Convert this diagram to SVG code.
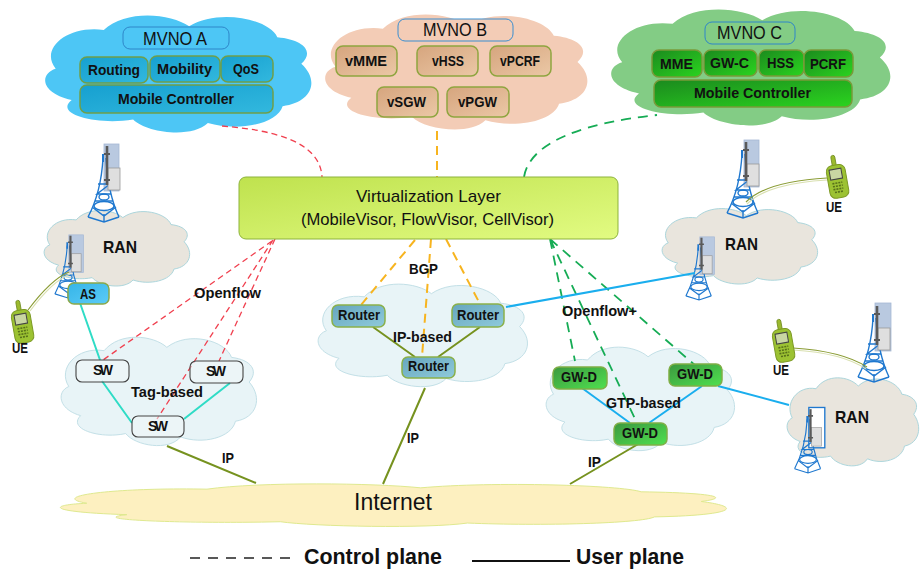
<svg xmlns="http://www.w3.org/2000/svg" xmlns:xlink="http://www.w3.org/1999/xlink" width="920" height="569" viewBox="0 0 920 569">
<style>
text{font-family:"Liberation Sans",Arial,sans-serif;fill:#111}
.b{font-weight:700;font-size:15.5px}
.s{font-weight:700;font-size:14px}
.m{font-weight:700;font-size:17px}
.r{font-size:18px}
.l{font-weight:700;font-size:22px}
.bx{stroke-width:1.5}
.red{fill:none;stroke:#f0404f;stroke-width:1.3;stroke-dasharray:6 4}
.org{fill:none;stroke:#f7b41f;stroke-width:2;stroke-dasharray:9 6}
.grn{fill:none;stroke:#16ac55;stroke-width:1.8;stroke-dasharray:10 7}
.cy{stroke:#2fdcc6;stroke-width:2;fill:none}
.ol{stroke:#76921f;stroke-width:2;fill:none}
.bl{stroke:#1aaeee;stroke-width:2;fill:none}
.ue{stroke:#8a9c34;stroke-width:1.2;fill:none}
.ue2{stroke:#d9e0b0;stroke-width:1.2;fill:none}
.cl{vector-effect:non-scaling-stroke}
.t{fill:none;stroke:#1f78cf;stroke-width:1.4}
</style>
<defs>
<linearGradient id="ga" x1="0" y1="0" x2="1" y2="1"><stop offset="0" stop-color="#16a0d0"/><stop offset="1" stop-color="#32b8de"/></linearGradient>
<linearGradient id="gb" x1="0" y1="0" x2="1" y2="1"><stop offset="0" stop-color="#d6a57e"/><stop offset="1" stop-color="#ebc8a6"/></linearGradient>
<linearGradient id="gc" x1="0" y1="0" x2="1" y2="1"><stop offset="0" stop-color="#1b8a1e"/><stop offset="1" stop-color="#2bd41f"/></linearGradient>
<linearGradient id="gv" x1="0" y1="0" x2="1" y2="1"><stop offset="0" stop-color="#bfe24e"/><stop offset="1" stop-color="#e2fb82"/></linearGradient>
<linearGradient id="gas" x1="0" y1="0" x2="1" y2="1"><stop offset="0" stop-color="#35b5e8"/><stop offset="1" stop-color="#5ccbf7"/></linearGradient>
<linearGradient id="gr" x1="0" y1="0" x2="1" y2="1"><stop offset="0" stop-color="#66a6be"/><stop offset="1" stop-color="#8fcadb"/></linearGradient>
<linearGradient id="gd" x1="0" y1="0" x2="1" y2="1"><stop offset="0" stop-color="#3c983f"/><stop offset="1" stop-color="#4fe04f"/></linearGradient>
<path id="cloud" class="cl" d="M4,46C-2,50 -2,66 10,72C3,84 20,93 33,88C38,99 55,104 61,91C72,98 87,92 89,77C100,74 103,56 96,42C101,32 97,22 87,20C84,5 65,-4 54,11C47,0 30,-3 22,14C8,10 -2,30 4,46Z"/>
<g id="tw">
<path class="t" d="M-1,-64C-2,-45 -7,-22 -16,-5M2,-64C3,-45 7,-22 15,-5M-12,-15L0,-6L12,-15M-16,-5L0,0L15,-5M0,-8V0M-6,-38H6L-7,-28H7M-9,-21H9"/>
<ellipse class="t" cx="0" cy="-16" rx="10" ry="4.5"/><ellipse class="t" cx="0" cy="-25" rx="5" ry="3"/>
<path d="M-1,-60V-68" stroke="#1f78cf" stroke-width="2" fill="none"/>
<rect x="4" y="-54" width="12" height="22" fill="#dfdfdf" stroke="#999" stroke-width=".8"/>
<path d="M3,-76V-37" stroke="#5a5a5a" stroke-width="2.6" fill="none"/><path d="M0,-68H6M0,-42H6" stroke="#5a5a5a" stroke-width="1.8"/>
</g>
<g id="ph">
<rect x="-2" y="-26" width="4" height="13" rx="2" fill="#9cba2e" stroke="#6f8a20" stroke-width=".8"/>
<rect x="-9" y="-16" width="19" height="33" rx="6" fill="#9cc232" stroke="#7d9a25" stroke-width="1"/>
<rect x="-6" y="-12" width="12" height="10" fill="#c9d6a2" stroke="#444" stroke-width="1"/>
<path d="M-5,2H5M-5,5H5M-5,8H5M-4,11H4" stroke="#57701a" stroke-width="1.6" stroke-dasharray="2 1"/>
</g>
</defs>

<g id="cloud-a"><use xlink:href="#cloud" href="#cloud" transform="translate(45,13) scale(2.67,1.21)" fill="#4dc6f5"/></g>
<g id="cloud-b"><use xlink:href="#cloud" href="#cloud" transform="translate(325,12) scale(2.63,1.19)" fill="#f3ccb6"/></g>
<g id="cloud-c"><use xlink:href="#cloud" href="#cloud" transform="translate(611,7) scale(2.8,1.2)" fill="#83cc85"/></g>
<g id="cloud-ran1"><use xlink:href="#cloud" href="#cloud" transform="translate(44,209) scale(1.46,.78)" fill="#e9e5dd" stroke="#acd6dc"/></g>
<g id="cloud-ran2"><use xlink:href="#cloud" href="#cloud" transform="translate(662,207) scale(1.56,.78)" fill="#e9e5dd" stroke="#acd6dc"/></g>
<g id="cloud-ran3"><use xlink:href="#cloud" href="#cloud" transform="translate(787,376) scale(1.32,.91)" fill="#e9e5dd" stroke="#acd6dc"/></g>
<g id="cloud-tag"><use xlink:href="#cloud" href="#cloud" transform="translate(61,335) scale(1.96,1.12)" fill="#e8f4f7" stroke="#c3e0e7"/></g>
<g id="cloud-ip"><use xlink:href="#cloud" href="#cloud" transform="translate(318,282) scale(2.1,1.06)" fill="#e8f4f7" stroke="#c3e0e7"/></g>
<g id="cloud-gtp"><use xlink:href="#cloud" href="#cloud" transform="translate(546,345) scale(1.89,1.07)" fill="#e8f4f7" stroke="#c3e0e7"/></g>
<g id="cloud-internet"><use xlink:href="#cloud" href="#cloud" transform="translate(60,483) scale(6.68,.44)" fill="#fdf0c0" stroke="#dfe98f"/></g>

<g id="towers">
<g transform="translate(104,222)"><rect x="0" y="-78" width="15" height="47" fill="#b9c9e0" stroke="#a5b8d4" stroke-width=".8"/><use xlink:href="#tw" href="#tw"/></g>
<g transform="translate(68,298) scale(.82)"><rect x="1" y="-77" width="18" height="46" fill="#b9c9e0" stroke="#a5b8d4" stroke-width=".8"/><use xlink:href="#tw" href="#tw"/></g>
<g transform="translate(743,218)"><rect x="1" y="-78" width="15" height="47" fill="#b9c9e0" stroke="#a5b8d4" stroke-width=".8"/><use xlink:href="#tw" href="#tw"/></g>
<g transform="translate(699,300) scale(.82)"><rect x="1" y="-77" width="18" height="46" fill="#b9c9e0" stroke="#a5b8d4" stroke-width=".8"/><use xlink:href="#tw" href="#tw"/></g>
<g transform="translate(874,382)"><rect x="1" y="-79" width="16" height="48" fill="#b9c9e0" stroke="#a5b8d4" stroke-width=".8"/><use xlink:href="#tw" href="#tw"/></g>
<g transform="translate(808,473) scale(.84)"><rect x="1" y="-78" width="19" height="48" fill="#fff" stroke="#1f78cf" stroke-width="1.6"/><use xlink:href="#tw" href="#tw"/></g>
</g>

<g id="connectors">
<path class="red" d="M222,126C270,130 320,140 322,177"/>
<path class="org" d="M437,131V177"/>
<path class="grn" d="M524,177C530,140 590,122 657,115"/>
<path class="red" d="M272,241L103,360M275,239L219,361M273,240L157,419"/>
<path class="org" d="M415,240L361,305M431,239L422,357M446,239L480,304"/>
<path class="grn" d="M550,239L575,361M550,239L637,423M550,239L697,367"/>
<path class="cy" d="M80,303L100,360M102,381L132,423M230,383L184,419"/>
<path class="ol" d="M167,446L256,483M373,327L415,357M480,327L438,357M425,388L383,484M640,443L570,484"/>
<path class="bl" d="M506,307L695,273M582,388L630,423M702,386L649,423M718,386L789,405"/>
<path class="ue2" d="M30,311C42,295 55,280 70,274"/><path class="ue" d="M28,310C40,294 54,278 69,272"/>
<path class="ue2" d="M827,180C790,182 760,190 747,204"/><path class="ue" d="M827,178C790,180 760,188 746,202"/>
<path class="ue2" d="M793,350C825,352 850,358 866,369"/><path class="ue" d="M793,348C825,350 850,356 867,367"/>
</g>

<g id="phones">
<g transform="translate(22,326) rotate(-10)"><use xlink:href="#ph" href="#ph"/></g>
<g transform="translate(837,181) rotate(-10)"><use xlink:href="#ph" href="#ph"/></g>
<g transform="translate(783,345) rotate(-10)"><use xlink:href="#ph" href="#ph"/></g>
</g>

<g id="mvno-a"><rect x="123" y="27" width="106" height="22" rx="7" fill="#4dc6f5" stroke="#2e86c9" stroke-width="1"/><text class="r" x="143" y="45" textLength="64" lengthAdjust="spacingAndGlyphs">MVNO A</text></g>
<g id="a-routing"><rect class="bx" x="80" y="57" width="68" height="26" rx="7" fill="url(#ga)" stroke="#6f9f4a"/><text class="b" x="88" y="75" textLength="52" lengthAdjust="spacingAndGlyphs">Routing</text></g>
<g id="a-mobility"><rect class="bx" x="150" y="56" width="70" height="26" rx="7" fill="url(#ga)" stroke="#6f9f4a"/><text class="b" x="157" y="74" textLength="55" lengthAdjust="spacingAndGlyphs">Mobility</text></g>
<g id="a-qos"><rect class="bx" x="221" y="56" width="52" height="26" rx="7" fill="url(#ga)" stroke="#6f9f4a"/><text class="b" x="233" y="74" textLength="26" lengthAdjust="spacingAndGlyphs">QoS</text></g>
<g id="a-controller"><rect class="bx" x="80" y="85" width="193" height="28" rx="7" fill="url(#ga)" stroke="#6f9f4a"/><text class="b" x="118" y="104" textLength="116" lengthAdjust="spacingAndGlyphs">Mobile Controller</text></g>

<g id="mvno-b"><rect x="398" y="19" width="115" height="22" rx="7" fill="#f3ccb6" stroke="#3b8ed0" stroke-width="1"/><text class="r" x="423" y="36" textLength="64" lengthAdjust="spacingAndGlyphs">MVNO B</text></g>
<g id="b-vmme"><rect class="bx" x="336" y="46" width="61" height="30" rx="7" fill="url(#gb)" stroke="#8fa53f"/><text class="b" x="345" y="66" textLength="42" lengthAdjust="spacingAndGlyphs">vMME</text></g>
<g id="b-vhss"><rect class="bx" x="417" y="46" width="61" height="30" rx="7" fill="url(#gb)" stroke="#8fa53f"/><text class="b" x="432" y="66" textLength="32" lengthAdjust="spacingAndGlyphs">vHSS</text></g>
<g id="b-vpcrf"><rect class="bx" x="490" y="46" width="61" height="30" rx="7" fill="url(#gb)" stroke="#8fa53f"/><text class="b" x="500" y="66" textLength="40" lengthAdjust="spacingAndGlyphs">vPCRF</text></g>
<g id="b-vsgw"><rect class="bx" x="377" y="87" width="61" height="30" rx="7" fill="url(#gb)" stroke="#8fa53f"/><text class="b" x="387" y="107" textLength="39" lengthAdjust="spacingAndGlyphs">vSGW</text></g>
<g id="b-vpgw"><rect class="bx" x="447" y="87" width="62" height="30" rx="7" fill="url(#gb)" stroke="#8fa53f"/><text class="b" x="458" y="107" textLength="39" lengthAdjust="spacingAndGlyphs">vPGW</text></g>

<g id="mvno-c"><rect x="705" y="22" width="90" height="22" rx="7" fill="#83cc85" stroke="#2e86c9" stroke-width="1"/><text class="r" x="717" y="39" textLength="65" lengthAdjust="spacingAndGlyphs">MVNO C</text></g>
<g id="c-mme"><rect class="bx" x="652" y="50" width="50" height="27" rx="7" fill="url(#gc)" stroke="#7a9a3a"/><text class="b" x="660" y="69" textLength="33" lengthAdjust="spacingAndGlyphs">MME</text></g>
<g id="c-gwc"><rect class="bx" x="704" y="50" width="53" height="26" rx="7" fill="url(#gc)" stroke="#7a9a3a"/><text class="b" x="710" y="68" textLength="39" lengthAdjust="spacingAndGlyphs">GW-C</text></g>
<g id="c-hss"><rect class="bx" x="759" y="50" width="45" height="26" rx="7" fill="url(#gc)" stroke="#7a9a3a"/><text class="b" x="767" y="68" textLength="27" lengthAdjust="spacingAndGlyphs">HSS</text></g>
<g id="c-pcrf"><rect class="bx" x="804" y="50" width="49" height="27" rx="7" fill="url(#gc)" stroke="#7a9a3a"/><text class="b" x="810" y="69" textLength="36" lengthAdjust="spacingAndGlyphs">PCRF</text></g>
<g id="c-controller"><rect class="bx" x="654" y="80" width="198" height="27" rx="7" fill="url(#gc)" stroke="#7a9a3a"/><text class="b" x="694" y="98" textLength="117" lengthAdjust="spacingAndGlyphs">Mobile Controller</text></g>

<g id="virtualization"><rect x="239" y="177" width="379" height="62" rx="7" fill="url(#gv)" stroke="#8db33c" stroke-width="1"/>
<text x="356" y="202" font-size="17" textLength="145" lengthAdjust="spacingAndGlyphs">Virtualization Layer</text>
<text x="301" y="225" font-size="17" textLength="253" lengthAdjust="spacingAndGlyphs">(MobileVisor, FlowVisor, CellVisor)</text></g>

<g id="as"><rect class="bx" x="68" y="283" width="41" height="21" rx="6" fill="url(#gas)" stroke="#8aa84a"/><text class="b" x="80" y="299" textLength="16" lengthAdjust="spacingAndGlyphs">AS</text></g>
<g id="sw1"><rect x="76" y="360" width="53" height="22" rx="6" fill="#f0f6f8" fill-opacity=".5" stroke="#444" stroke-width="1.1"/><text class="s" x="93" y="375" textLength="20" lengthAdjust="spacing">SW</text></g>
<g id="sw2"><rect x="190" y="361" width="53" height="22" rx="6" fill="#f0f6f8" fill-opacity=".5" stroke="#444" stroke-width="1.1"/><text class="s" x="206" y="376" textLength="20" lengthAdjust="spacing">SW</text></g>
<g id="sw3"><rect x="132" y="416" width="52" height="21" rx="6" fill="#f0f6f8" fill-opacity=".5" stroke="#444" stroke-width="1.1"/><text class="s" x="148" y="431" textLength="20" lengthAdjust="spacing">SW</text></g>
<g id="r1"><rect class="bx" x="332" y="305" width="53" height="22" rx="6" fill="url(#gr)" stroke="#8ab04a"/><text class="b" x="338" y="320" textLength="42" lengthAdjust="spacingAndGlyphs">Router</text></g>
<g id="r2"><rect class="bx" x="452" y="304" width="52" height="23" rx="6" fill="url(#gr)" stroke="#8ab04a"/><text class="b" x="457" y="320" textLength="42" lengthAdjust="spacingAndGlyphs">Router</text></g>
<g id="r3"><rect class="bx" x="402" y="357" width="53" height="21" rx="6" fill="url(#gr)" stroke="#8ab04a"/><text class="b" x="408" y="371" textLength="41" lengthAdjust="spacingAndGlyphs">Router</text></g>
<g id="gw1"><rect class="bx" x="553" y="367" width="54" height="22" rx="6" fill="url(#gd)" stroke="#7fae46"/><text class="b" x="561" y="382" textLength="36" lengthAdjust="spacingAndGlyphs">GW-D</text></g>
<g id="gw2"><rect class="bx" x="669" y="364" width="53" height="22" rx="6" fill="url(#gd)" stroke="#7fae46"/><text class="b" x="677" y="379" textLength="36" lengthAdjust="spacingAndGlyphs">GW-D</text></g>
<g id="gw3"><rect class="bx" x="614" y="423" width="53" height="22" rx="6" fill="url(#gd)" stroke="#7fae46"/><text class="b" x="622" y="438" textLength="36" lengthAdjust="spacingAndGlyphs">GW-D</text></g>

<g id="labels">
<text class="m" x="103" y="253" textLength="34" lengthAdjust="spacingAndGlyphs">RAN</text>
<text class="m" x="725" y="250" textLength="33" lengthAdjust="spacingAndGlyphs">RAN</text>
<text class="m" x="835" y="423" textLength="34" lengthAdjust="spacingAndGlyphs">RAN</text>
<text class="s" x="12" y="353" textLength="16" lengthAdjust="spacingAndGlyphs">UE</text>
<text class="s" x="826" y="212" textLength="16" lengthAdjust="spacingAndGlyphs">UE</text>
<text class="s" x="773" y="375" textLength="16" lengthAdjust="spacingAndGlyphs">UE</text>
<text class="b" x="194" y="298" textLength="67" lengthAdjust="spacingAndGlyphs">Openflow</text>
<text class="b" x="562" y="316" textLength="75" lengthAdjust="spacingAndGlyphs">Openflow+</text>
<text class="b" x="409" y="274" textLength="29" lengthAdjust="spacingAndGlyphs">BGP</text>
<text class="b" x="131" y="397" textLength="72" lengthAdjust="spacingAndGlyphs">Tag-based</text>
<text class="b" x="393" y="342" textLength="59" lengthAdjust="spacingAndGlyphs">IP-based</text>
<text class="b" x="606" y="408" textLength="75" lengthAdjust="spacingAndGlyphs">GTP-based</text>
<text class="b" x="222" y="463" textLength="12" lengthAdjust="spacingAndGlyphs">IP</text>
<text class="b" x="407" y="443" textLength="12" lengthAdjust="spacingAndGlyphs">IP</text>
<text class="b" x="588" y="467" textLength="13" lengthAdjust="spacingAndGlyphs">IP</text>
<text x="354" y="510" font-size="23" textLength="78" lengthAdjust="spacingAndGlyphs">Internet</text>
</g>

<g id="legend">
<path d="M190,558H293" stroke="#222" stroke-width="1.3" stroke-dasharray="10 8" fill="none"/>
<path d="M472,561H570" stroke="#111" stroke-width="2" fill="none"/>
<text class="l" x="304" y="564" textLength="138" lengthAdjust="spacingAndGlyphs">Control plane</text>
<text class="l" x="576" y="564" textLength="108" lengthAdjust="spacingAndGlyphs">User plane</text>
</g>
</svg>
